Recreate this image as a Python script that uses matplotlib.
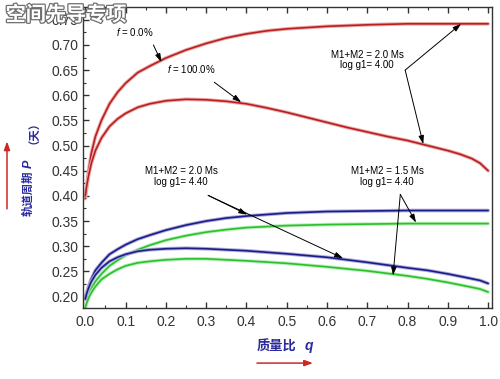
import matplotlib
matplotlib.use("Agg")
import matplotlib.pyplot as plt
import matplotlib.patheffects as pe
from matplotlib.ticker import MultipleLocator

plt.rcParams['font.family'] = ['Liberation Sans', 'DejaVu Sans']
plt.rcParams['mathtext.fontset'] = 'custom'
plt.rcParams['mathtext.it'] = 'Liberation Sans:italic'
plt.rcParams['mathtext.rm'] = 'Liberation Sans'

# ---- data ----
q_red_top = [0, 0.003, 0.008, 0.015, 0.025, 0.04, 0.06, 0.08, 0.1, 0.13, 0.16, 0.2, 0.25, 0.3,
             0.35, 0.4, 0.45, 0.5, 0.6, 0.7, 0.8, 0.9, 1.0]
P_red_top = [0.395, 0.415, 0.45, 0.485, 0.518, 0.55, 0.583, 0.606, 0.624, 0.645, 0.658, 0.674,
             0.69, 0.703, 0.714, 0.722, 0.728, 0.732, 0.737, 0.740, 0.742, 0.742, 0.742]

q_red_low = [0, 0.003, 0.008, 0.015, 0.025, 0.04, 0.06, 0.08, 0.1, 0.13, 0.16, 0.2, 0.25, 0.3,
             0.35, 0.4, 0.45, 0.5, 0.55, 0.6, 0.65, 0.7, 0.75, 0.8, 0.85, 0.9, 0.93, 0.96, 0.98, 1.0]
P_red_low = [0.40, 0.418, 0.44, 0.465, 0.49, 0.515, 0.538, 0.553, 0.564, 0.576, 0.583, 0.589,
             0.592, 0.591, 0.588, 0.583, 0.575, 0.566, 0.556, 0.546, 0.536, 0.527, 0.518, 0.51,
             0.5, 0.49, 0.483, 0.474, 0.465, 0.45]

q_blue_up = [0, 0.003, 0.008, 0.015, 0.025, 0.04, 0.06, 0.08, 0.1, 0.13, 0.16, 0.2, 0.25, 0.3,
             0.35, 0.4, 0.45, 0.5, 0.6, 0.7, 0.8, 0.9, 1.0]
P_blue_up = [0.195, 0.205, 0.22, 0.235, 0.252, 0.267, 0.284, 0.294, 0.303, 0.314, 0.322, 0.332,
             0.342, 0.35, 0.356, 0.36, 0.363, 0.366, 0.369, 0.370, 0.371, 0.371, 0.371]

q_green_up = [0, 0.003, 0.008, 0.015, 0.025, 0.04, 0.06, 0.08, 0.1, 0.13, 0.16, 0.2, 0.25, 0.3,
              0.35, 0.4, 0.45, 0.5, 0.6, 0.7, 0.8, 0.9, 1.0]
P_green_up = [0.178, 0.188, 0.202, 0.216, 0.23, 0.245, 0.261, 0.272, 0.282, 0.293, 0.302, 0.312,
              0.321, 0.328, 0.333, 0.337, 0.339, 0.341, 0.343, 0.344, 0.345, 0.345, 0.345]

q_blue_low = [0, 0.003, 0.008, 0.015, 0.025, 0.04, 0.06, 0.08, 0.1, 0.13, 0.16, 0.2, 0.25, 0.3,
              0.35, 0.4, 0.5, 0.6, 0.7, 0.8, 0.85, 0.9, 0.95, 0.98, 1.0]
P_blue_low = [0.195, 0.205, 0.217, 0.23, 0.243, 0.257, 0.27, 0.278, 0.284, 0.29, 0.293, 0.295,
              0.296, 0.295, 0.293, 0.291, 0.285, 0.278, 0.268, 0.257, 0.252, 0.245, 0.237, 0.232, 0.226]

q_green_low = [0, 0.003, 0.008, 0.015, 0.025, 0.04, 0.06, 0.08, 0.1, 0.13, 0.16, 0.2, 0.25, 0.3,
               0.35, 0.4, 0.5, 0.6, 0.7, 0.8, 0.85, 0.9, 0.95, 0.98, 1.0]
P_green_low = [0.178, 0.186, 0.197, 0.208, 0.22, 0.234, 0.245, 0.254, 0.261, 0.267, 0.27, 0.273,
               0.275, 0.275, 0.273, 0.271, 0.266, 0.259, 0.251, 0.241, 0.235, 0.228, 0.22, 0.215, 0.209]

x_ticks = [0.0, 0.1, 0.2, 0.3, 0.4, 0.5, 0.6, 0.7, 0.8, 0.9, 1.0]
y_ticks = [0.20, 0.25, 0.30, 0.35, 0.40, 0.45, 0.50, 0.55, 0.60, 0.65, 0.70, 0.75]

fig = plt.figure(figsize=(5.0, 3.79), dpi=100)
ax = fig.add_axes([0.165, 0.187, 0.8185, 0.794])

RED, RED_H = '#b82020', '#eeaaaa'
BLUE, BLUE_H = '#1c1c88', '#acacdc'
GREEN, GREEN_H = '#2cc02c', '#b8f0b8'

def curve(q, p, c, h):
    ax.plot(q, p, color=c, lw=1.2, solid_capstyle='round', solid_joinstyle='round',
            path_effects=[pe.Stroke(linewidth=2.6, foreground=h), pe.Normal()])

curve(q_red_top, P_red_top, RED, RED_H)
curve(q_red_low, P_red_low, RED, RED_H)
curve(q_green_up, P_green_up, GREEN, GREEN_H)
curve(q_green_low, P_green_low, GREEN, GREEN_H)
curve(q_blue_up, P_blue_up, BLUE, BLUE_H)
curve(q_blue_low, P_blue_low, BLUE, BLUE_H)

ax.set_xlim(-0.007, 1.009)
ax.set_ylim(0.177, 0.775)
ax.set_xticks(x_ticks)
ax.set_xticklabels([f"{v:.1f}" for v in x_ticks])
ax.set_yticks(y_ticks)
ax.set_yticklabels([f"{v:.2f}" for v in y_ticks])
ax.xaxis.set_minor_locator(MultipleLocator(0.05))
ax.yaxis.set_minor_locator(MultipleLocator(0.025))
ax.tick_params(which='both', direction='in', top=True, right=False, colors='#333333', labelsize=10)
ax.tick_params(which='major', length=4, width=1)
ax.tick_params(which='minor', length=2.2, width=0.8)
ax.tick_params(axis='x', pad=5)
ax.tick_params(axis='y', pad=3)
for s in ax.spines.values():
    s.set_color('#333333')
    s.set_linewidth(1.0)

arrow = dict(arrowstyle='-|>,head_length=0.5,head_width=0.16', lw=0.7, color='black',
             shrinkA=0, shrinkB=0)
tfs = 7

ax.text(0.124, 0.726, r'$\it{f}$ = 0.0%', fontsize=tfs, ha='center', va='center')
ax.annotate('', xy=(0.189, 0.666), xytext=(0.169, 0.700), arrowprops=arrow)
ax.text(0.263, 0.652, r'$\it{f}$ = 100.0%', fontsize=tfs, ha='center', va='center')
ax.annotate('', xy=(0.387, 0.586), xytext=(0.320, 0.626), arrowprops=arrow)

ax.text(0.700, 0.670, 'M1+M2 = 2.0 Ms\nlog g1= 4.00', fontsize=tfs, ha='center', va='center',
        linespacing=1.1)
ax.annotate('', xy=(0.933, 0.742), xytext=(0.794, 0.650), arrowprops=arrow)
ax.annotate('', xy=(0.839, 0.503), xytext=(0.794, 0.650), arrowprops=arrow)

ax.text(0.238, 0.439, 'M1+M2 = 2.0 Ms\nlog g1= 4.40', fontsize=tfs, ha='center', va='center',
        linespacing=1.1)
ax.annotate('', xy=(0.402, 0.363), xytext=(0.305, 0.401), arrowprops=arrow)
ax.annotate('', xy=(0.640, 0.276), xytext=(0.305, 0.401), arrowprops=arrow)

ax.text(0.749, 0.439, 'M1+M2 = 1.5 Ms\nlog g1= 4.40', fontsize=tfs, ha='center', va='center',
        linespacing=1.1)
ax.annotate('', xy=(0.821, 0.347), xytext=(0.782, 0.403), arrowprops=arrow)
ax.annotate('', xy=(0.764, 0.242), xytext=(0.782, 0.403), arrowprops=arrow)

# axis labels
LBL = '#2a2a9e'
CJK = ['Noto Sans CJK SC', 'DejaVu Sans']
fig.text(0.056, 0.489, '轨道周期', family=CJK, fontsize=8.2, fontweight='bold', color=LBL,
         rotation=90, ha='center', va='center')
fig.text(0.058, 0.569, 'P', family='Liberation Sans', fontsize=9, fontweight='bold', style='italic',
         color=LBL, rotation=90, ha='center', va='center')
fig.text(0.056, 0.664, '（天）', family=CJK, fontsize=8.2, fontweight='bold', color=LBL,
         rotation=90, ha='center', va='center')
big_arrow = dict(arrowstyle='-|>,head_length=0.5,head_width=0.18', lw=1.1,
                 color='#cc2828', shrinkA=0, shrinkB=0)
ax.annotate('', xy=(0.014, 0.627), xytext=(0.014, 0.449), xycoords='figure fraction',
            textcoords='figure fraction', arrowprops=big_arrow, annotation_clip=False)

fig.text(0.554, 0.0844, '质量比', family=CJK, fontsize=9.5, fontweight='bold', color=LBL,
         ha='center', va='center')
fig.text(0.618, 0.086, 'q', family='Liberation Sans', fontsize=10, fontweight='bold', style='italic',
         color=LBL, ha='center', va='center')
ax.annotate('', xy=(0.626, 0.042), xytext=(0.514, 0.042), xycoords='figure fraction',
            textcoords='figure fraction', arrowprops=big_arrow, annotation_clip=False)

# watermark
fig.text(0.132, 0.962, '空间先导专项', family=CJK, fontsize=14.5, fontweight='bold', color='white',
         ha='center', va='center', zorder=10,
         path_effects=[pe.withStroke(linewidth=1.8, foreground='#6e6e6e')])

fig.savefig('out.png', dpi=100)
